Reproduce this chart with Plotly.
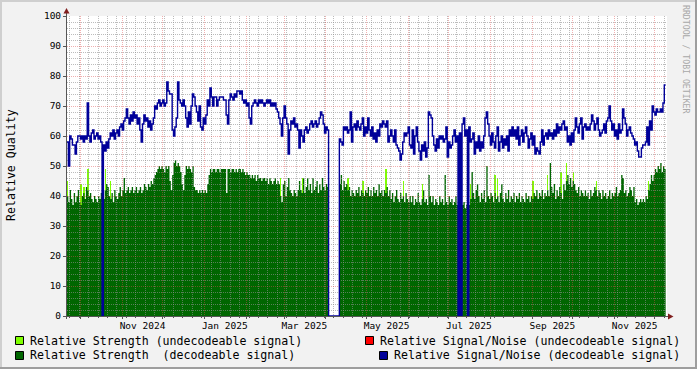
import plotly.graph_objects as go
import pandas as pd

# ---------------- data (one value per day) ----------------
start_date = "2024-09-21"
end_date = "2025-12-10"

snr_decodeable = [
    58, 50, 60, 59, 57, 57, 54, 58, 60, 60, 59, 60, 58, 60, 59,
    71, 60, 58, 61, 62, 59, 60, 61, 59, 60, 58, 0, 57, 55, 58,
    56, 59, 61, 60, 62, 59, 61, 62, 60, 63, 64, 62, 65, 66, 69,
    66, 64, 67, 65, 68, 66, 67, 64, 66, 62, 58, 64, 67, 65, 66,
    63, 65, 62, 64, 66, 70, 69, 71, 72, 70, 71, 72, 70, 71, 78,
    75, 74, 74, 62, 60, 63, 66, 78, 72, 71, 70, 72, 70, 66, 63,
    68, 64, 70, 74, 73, 70, 68, 65, 70, 63, 62, 66, 64, 67, 72,
    70, 76, 73, 70, 73, 73, 70, 72, 73, 73, 73, 72, 72, 67, 64,
    72, 74, 73, 72, 74, 73, 75, 75, 74, 75, 72, 71, 72, 70, 71,
    66, 64, 70, 71, 72, 71, 70, 72, 71, 72, 71, 70, 71, 72, 71,
    72, 70, 71, 70, 71, 69, 68, 66, 64, 60, 66, 70, 66, 64, 54,
    62, 65, 64, 66, 63, 64, 62, 56, 62, 60, 58, 62, 63, 61, 62,
    64, 65, 63, 64, 65, 63, 64, 66, 68, 67, 64, 61, 63, 62, 0,
    0, 0, 0, 0, 0, 0, 0, 59, 58, 57, 63, 62, 63, 61, 62,
    68, 58, 63, 64, 62, 65, 63, 62, 64, 66, 60, 63, 61, 66, 62,
    60, 63, 59, 61, 58, 62, 60, 64, 63, 65, 64, 63, 65, 58, 60,
    62, 60, 58, 62, 57, 56, 55, 52, 54, 58, 61, 60, 61, 63, 57,
    56, 62, 54, 60, 63, 58, 55, 52, 57, 55, 58, 53, 56, 68, 67,
    66, 60, 57, 55, 59, 56, 60, 59, 60, 58, 59, 63, 53, 58, 56,
    57, 60, 62, 58, 60, 0, 61, 0, 64, 66, 60, 62, 0, 63, 58,
    59, 61, 54, 58, 56, 60, 55, 58, 56, 60, 66, 68, 64, 60, 57,
    61, 58, 56, 60, 63, 55, 58, 60, 56, 59, 57, 60, 55, 62, 60,
    63, 60, 62, 59, 63, 57, 60, 62, 58, 61, 63, 60, 56, 59, 61,
    57, 60, 54, 56, 55, 54, 58, 62, 57, 60, 61, 59, 62, 60, 61,
    59, 62, 60, 64, 61, 63, 62, 64, 65, 62, 63, 58, 60, 57, 61,
    58, 62, 66, 63, 61, 64, 66, 59, 63, 64, 62, 63, 62, 64, 67,
    65, 62, 64, 66, 62, 60, 61, 62, 64, 61, 65, 66, 70, 65, 62,
    64, 60, 62, 59, 64, 61, 62, 69, 66, 64, 60, 62, 63, 61, 60,
    59, 57, 58, 55, 53, 53, 56, 57, 57, 58, 63, 57, 65, 62, 70,
    68, 67, 69, 68, 68, 69, 68, 71, 77, 77,
]

strength_decodeable = [
    40, 38, 42, 39, 37, 41, 38, 40, 42, 38, 37, 40, 41, 39, 43,
    42, 40, 41, 39, 38, 40, 39, 38, 40, 39, 41, 40, 39, 42, 44,
    43, 40, 39, 41, 38, 42, 40, 39, 41, 43, 40, 42, 46, 41, 42,
    43, 41, 42, 43, 41, 42, 43, 41, 42, 43, 41, 42, 44, 43, 42,
    44, 43, 45, 44, 46, 47, 48, 49, 50, 49, 50, 49, 48, 50, 49,
    50, 45, 42, 47, 51, 52, 50, 51, 50, 48, 44, 42, 47, 50, 49,
    50, 49, 48, 50, 43, 42, 42, 41, 42, 41, 42, 41, 42, 41, 44,
    47, 49, 48, 49, 49, 48, 49, 49, 48, 49, 49, 49, 49, 41, 49,
    49, 48, 49, 49, 48, 49, 48, 49, 49, 48, 49, 48, 47, 48, 47,
    47, 46, 47, 46, 47, 45, 47, 46, 46, 45, 46, 46, 45, 46, 44,
    46, 45, 44, 45, 46, 44, 45, 44, 40, 38, 44, 45, 40, 43, 46,
    42, 41, 40, 42, 41, 40, 42, 45, 42, 41, 46, 41, 43, 46, 42,
    44, 41, 46, 42, 43, 45, 41, 44, 42, 46, 43, 42, 44, 43, 0,
    0, 0, 0, 0, 0, 0, 0, 44, 47, 42, 45, 43, 44, 42, 43,
    40, 42, 41, 40, 42, 41, 43, 40, 42, 41, 40, 42, 41, 43, 40,
    42, 40, 43, 41, 42, 40, 44, 41, 42, 40, 42, 41, 43, 40, 42,
    39, 41, 38, 40, 42, 39, 38, 41, 39, 40, 38, 41, 39, 38, 40,
    38, 40, 37, 39, 38, 41, 38, 37, 39, 42, 38, 39, 37, 47, 40,
    38, 40, 37, 39, 38, 37, 40, 38, 39, 37, 47, 38, 37, 40, 38,
    39, 37, 38, 40, 37, 38, 36, 38, 37, 38, 36, 37, 38, 37, 39,
    48, 41, 39, 42, 44, 40, 38, 41, 39, 42, 38, 50, 40, 39, 41,
    40, 38, 41, 39, 40, 38, 41, 44, 39, 38, 41, 39, 42, 38, 40,
    39, 41, 38, 40, 39, 41, 38, 40, 39, 38, 41, 39, 40, 38, 40,
    39, 41, 40, 42, 39, 41, 40, 42, 39, 41, 40, 42, 40, 51, 43,
    41, 44, 39, 42, 40, 43, 41, 39, 44, 42, 45, 47, 44, 46, 43,
    45, 44, 42, 41, 43, 40, 42, 41, 40, 42, 40, 41, 39, 42, 40,
    41, 43, 42, 40, 42, 41, 39, 42, 40, 41, 39, 40, 42, 39, 41,
    40, 41, 43, 40, 41, 42, 47, 46, 41, 42, 40, 41, 43, 42, 40,
    43, 38, 39, 37, 38, 39, 38, 39, 38, 40, 39, 42, 44, 47, 45,
    47, 49, 48, 50, 49, 51, 48, 50, 49, 49,
]

# undecodeable strength: only days where it shows above the decodeable area
undecodeable_days = [0, 10, 12, 15, 28, 32, 158, 174, 208, 219, 236, 249, 263,
                     299, 317, 319, 345, 356, 366, 370, 375, 392, 431]
undecodeable_strength = [45, 44, 43, 49, 49, 45, 46, 46, 46, 45, 49, 45, 44,
                         44, 47, 46, 45, 47, 48, 51, 48, 45, 45]

month_label_dates = ["2024-11-16", "2025-01-16", "2025-03-16", "2025-05-16",
                     "2025-07-16", "2025-09-16", "2025-11-16"]
month_labels = ["Nov 2024", "Jan 2025", "Mar 2025", "May 2025",
                "Jul 2025", "Sep 2025", "Nov 2025"]
y_tick_values = [0, 10, 20, 30, 40, 50, 60, 70, 80, 90, 100]

legend_labels = [
    "Relative Strength (undecodeable signal)",
    "Relative Signal/Noise (undecodeable signal)",
    "Relative Strength  (decodeable signal)",
    "Relative Signal/Noise (decodeable signal)",
]

# ---------------- style ----------------
W, H = 697, 369
L, T, PW, PH = 67, 16, 600, 300
BG = "#F2F2F2"
LIGHT_GREEN = "#7FFF00"
DARK_GREEN = "#006600"
RED = "#FF0000"
BLUE = "#000099"
GRID = "rgba(143,143,143,0.6)"
MGRID = "rgba(222,79,79,0.45)"
AXIS = "#555555"
ARROW = "#801F1F"
FONT = "DejaVu Sans Mono"


def px(xp):
    return (xp - L) / PW


def py(yp):
    return (T + PH - yp) / PH


x_days = pd.date_range(start_date, periods=len(snr_decodeable), freq="D")
undecodeable_x = [x_days[d] for d in undecodeable_days]

fig = go.Figure()
fig.add_trace(go.Bar(
    x=undecodeable_x, y=undecodeable_strength, width=86400000, offset=0,
    marker=dict(color=LIGHT_GREEN, line=dict(width=0)),
    xaxis="x", yaxis="y", showlegend=False, hoverinfo="skip"))
fig.add_trace(go.Scatter(
    x=x_days, y=strength_decodeable, mode="lines",
    line=dict(width=0, shape="hv"), fill="tozeroy", fillcolor=DARK_GREEN,
    xaxis="x", yaxis="y", showlegend=False, hoverinfo="skip"))
fig.add_trace(go.Scatter(
    x=x_days, y=snr_decodeable, mode="lines",
    line=dict(width=1.4, shape="hv", color=BLUE),
    xaxis="x2", yaxis="y2", showlegend=False, hoverinfo="skip"))

shapes = []
# canvas
shapes.append(dict(type="rect", xref="paper", yref="paper", x0=0, x1=1, y0=0, y1=1,
                   fillcolor="white", line=dict(width=0), layer="below"))
# 3D border
for (x0, y0, x1, y1, c) in [(0, 0, W, 2, "#CFCFCF"), (0, 0, 2, H, "#CFCFCF"),
                            (0, H - 2, W, H, "#9E9E9E"), (W - 2, 0, W, H, "#9E9E9E")]:
    shapes.append(dict(type="rect", xref="paper", yref="paper",
                       x0=px(x0), x1=px(x1), y0=py(y1), y1=py(y0),
                       fillcolor=c, line=dict(width=0), layer="above"))
# axis lines
shapes.append(dict(type="line", xref="paper", yref="paper", x0=px(66.5), x1=px(66.5),
                   y0=py(319), y1=py(11), line=dict(color=AXIS, width=1), layer="above"))
shapes.append(dict(type="line", xref="paper", yref="paper", x0=px(64), x1=px(669),
                   y0=py(316.5), y1=py(316.5), line=dict(color=AXIS, width=1), layer="above"))
# arrows
shapes.append(dict(type="path", xref="paper", yref="paper",
                   path=f"M {px(63.5)} {py(13.5)} L {px(69.5)} {py(13.5)} L {px(66.5)} {py(8)} Z",
                   fillcolor=ARROW, line=dict(width=0), layer="above"))
shapes.append(dict(type="path", xref="paper", yref="paper",
                   path=f"M {px(668)} {py(313.5)} L {px(668)} {py(319.5)} L {px(673.5)} {py(316.5)} Z",
                   fillcolor=ARROW, line=dict(width=0), layer="above"))
# legend swatches
swatches = [(15.5, 336.5, LIGHT_GREEN), (365.5, 336.5, RED),
            (15.5, 351.5, DARK_GREEN), (379.5, 351.5, BLUE)]
for (sx, sy, c) in swatches:
    shapes.append(dict(type="rect", xref="paper", yref="paper",
                       x0=px(sx), x1=px(sx + 8), y0=py(sy + 8), y1=py(sy),
                       fillcolor=c, line=dict(color="black", width=1), layer="above"))

annotations = []
# (x, y, anchor) for each legend text
legend_pos = [(30, 341, "left"), (680, 341, "right"), (30, 355, "left"), (680, 355, "right")]
for (lx, ly, anc), text in zip(legend_pos, legend_labels):
    annotations.append(dict(xref="paper", yref="paper", x=px(lx), y=py(ly),
                            xanchor=anc, yanchor="middle", showarrow=False,
                            text=text.replace(" ", "&nbsp;"),
                            font=dict(family=FONT, size=11.6, color="black"),
                            borderpad=0, borderwidth=0))
annotations.append(dict(xref="paper", yref="paper", x=px(11), y=py(165),
                        xanchor="center", yanchor="middle", showarrow=False,
                        text="Relative Quality", textangle=-90,
                        font=dict(family=FONT, size=11.6, color="black")))
annotations.append(dict(xref="paper", yref="paper", x=px(686), y=py(59),
                        xanchor="center", yanchor="middle", showarrow=False,
                        text="RRDTOOL / TOBI OETIKER", textangle=90,
                        font=dict(family=FONT, size=8.2, color="#A8A8A8"),
                        borderpad=0, borderwidth=0))

fig.update_layout(
    template="none",
    width=W, height=H,
    margin=dict(l=L, r=W - L - PW, t=T, b=H - T - PH, pad=0, autoexpand=False),
    paper_bgcolor=BG, plot_bgcolor="rgba(0,0,0,0)",
    showlegend=False, bargap=0,
    font=dict(family=FONT, color="black"),
    xaxis=dict(domain=[0, 1], anchor="y", type="date", range=[start_date, end_date],
               automargin=False,
               showgrid=False, zeroline=False, showline=False,
               tickmode="array", tickvals=month_label_dates, ticktext=month_labels,
               ticks="", tickfont=dict(family=FONT, size=9.5, color="black"),
               ticklabelstandoff=2),
    yaxis=dict(domain=[0, 1], anchor="x", range=[0, 100], showgrid=False,
               automargin=False,
               zeroline=False, showline=False, tickmode="array", tickvals=y_tick_values,
               ticks="outside", ticklen=3, tickcolor=AXIS, tickwidth=1,
               tickfont=dict(family=FONT, size=9.5, color="black")),
    xaxis2=dict(domain=[0, 1], anchor="y2", type="date", range=[start_date, end_date],
                automargin=False,
                showgrid=True, gridcolor=MGRID, griddash="1px,1px", gridwidth=1,
                zeroline=False, showline=False, showticklabels=False,
                tick0="2024-10-01", dtick="M1", ticks="outside", ticklen=2,
                tickcolor=AXIS,
                minor=dict(tick0="2024-09-23", dtick=7 * 86400000, showgrid=True,
                           gridcolor=GRID, griddash="1px,1px", gridwidth=1,
                           ticks="outside", ticklen=1, tickcolor=AXIS)),
    yaxis2=dict(domain=[0, 1], anchor="x2", range=[0, 100],
                automargin=False,
                showgrid=True, gridcolor=MGRID, griddash="1px,1px", gridwidth=1,
                zeroline=False, showline=False, showticklabels=False,
                tick0=0, dtick=10, ticks="",
                minor=dict(tick0=0, dtick=2, showgrid=True, gridcolor=GRID,
                           griddash="1px,1px", gridwidth=1)),
    shapes=shapes, annotations=annotations,
)

fig.write_html("out.html",
               config={"displayModeBar": False, "staticPlot": True},
               post_script="document.body.style.margin='0';document.body.style.padding='0';")
